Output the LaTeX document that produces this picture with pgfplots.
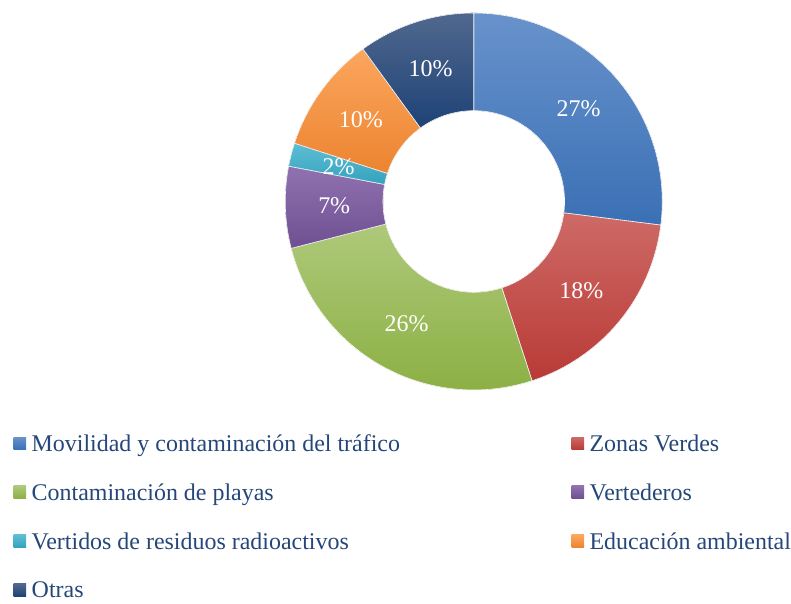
\documentclass[border=0pt]{standalone}
\usepackage{fontspec}
\setmainfont{Liberation Serif}
\usepackage{pgfplots}
\pgfplotsset{compat=1.18}
\usepgfplotslibrary{fillbetween}
\definecolor{txt}{RGB}{36,70,120}
\definecolor{blueT}{RGB}{104,146,203}\definecolor{blueB}{RGB}{58,112,181}
\definecolor{redT}{RGB}{206,106,102}\definecolor{redB}{RGB}{185,58,54}
\definecolor{greenT}{RGB}{174,201,122}\definecolor{greenB}{RGB}{140,176,68}
\definecolor{purpT}{RGB}{144,114,176}\definecolor{purpB}{RGB}{110,80,146}
\definecolor{aquaT}{RGB}{94,190,212}\definecolor{aquaB}{RGB}{52,162,190}
\definecolor{oranT}{RGB}{251,166,94}\definecolor{oranB}{RGB}{236,132,48}
\definecolor{dblT}{RGB}{80,104,142}\definecolor{dblB}{RGB}{30,66,118}
\newcommand{\slice}[5]{%
  \addplot[draw=none, forget plot, name path=o#5, domain=#1:#2, samples=80]
    ({475+189*cos(90-3.6*x)},{396+189*sin(90-3.6*x)});
  \addplot[draw=none, forget plot, name path=i#5, domain=#1:#2, samples=80]
    ({475+91*cos(90-3.6*x)},{396+91*sin(90-3.6*x)});
  \addplot[top color=#3, bottom color=#4, draw=white, line width=0.6bp]
    fill between[of=o#5 and i#5];
}
\newcommand{\lab}[2]{%
  \node[text=white, font=\fontsize{24bp}{28bp}\selectfont] at
    (axis cs:{475+140*cos(90-3.6*#1)},{396+140*sin(90-3.6*#1)}) {#2\%};
}
\begin{document}
\begin{tikzpicture}
\begin{axis}[
  x=1bp, y=1bp, xmin=0, xmax=791, ymin=0, ymax=598,
  hide axis, clip=false,
  legend columns=2,
  legend cell align=left,
  area legend/.style={legend image code/.code={\fill[##1, draw=none] (0bp,-6.3bp) rectangle (12.6bp,6.3bp);}},
  legend image code/.code={\fill[#1, draw=none] (0bp,-6.3bp) rectangle (12.6bp,6.3bp);},
  legend style={at={(axis cs:13.7,167.5)}, anchor=north west, draw=none, fill=none,
    inner sep=0pt, outer sep=0pt, text=txt,
    font=\fontsize{24bp}{28bp}\selectfont,
    row sep=21bp,
    nodes={inner sep=0pt, outer sep=0pt, text height=22bp, text depth=6bp},
    /tikz/every odd column/.append style={column sep=5.5bp},
    /tikz/column 2/.append style={column sep=172bp}},
]
\path (axis cs:0,0) rectangle (axis cs:791,598);
\slice{0}{27}{blueT}{blueB}{a}
\slice{27}{45}{redT}{redB}{b}
\slice{45}{71}{greenT}{greenB}{c}
\slice{71}{78}{purpT}{purpB}{d}
\slice{78}{80}{aquaT}{aquaB}{e}
\slice{80}{90}{oranT}{oranB}{f}
\slice{90}{100}{dblT}{dblB}{g}
\legend{Movilidad y contaminación del tráfico, Zonas Verdes, Contaminación de playas, Vertederos, Vertidos de residuos radioactivos, Educación ambiental, Otras}
\lab{13.5}{27}
\lab{36}{18}
\lab{58}{26}
\lab{74.5}{7}
\lab{79}{2}
\lab{85}{10}
\lab{95}{10}
\end{axis}
\end{tikzpicture}
\end{document}
